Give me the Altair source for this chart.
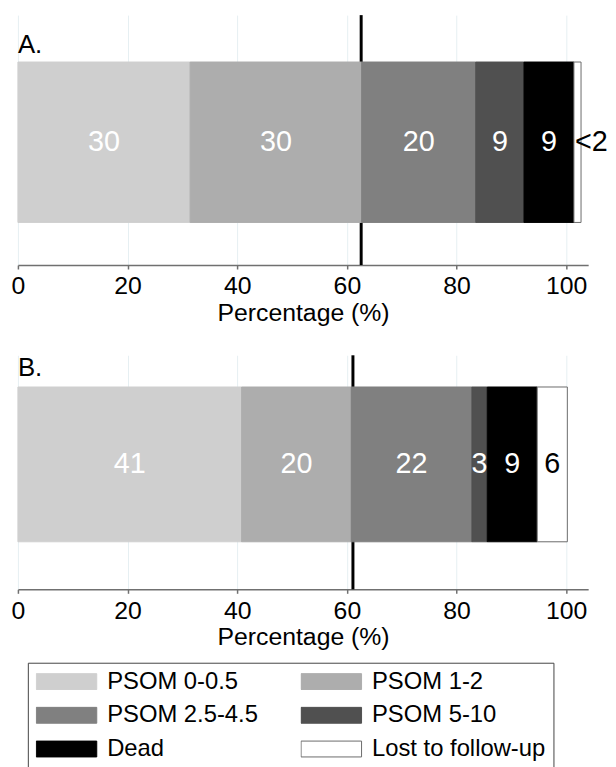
import altair as alt
import pandas as pd

categories = ["PSOM 0-0.5", "PSOM 1-2", "PSOM 2.5-4.5", "PSOM 5-10", "Dead", "Lost to follow-up"]
fill_colors = ["#cfcfcf", "#adadad", "#808080", "#505050", "#000000", "#ffffff"]
stroke_colors = ["#cfcfcf", "#adadad", "#808080", "#505050", "#000000", "#6a6a6a"]

a_values = [31.4, 31.3, 20.8, 8.8, 9.1, 1.3]
a_labels = ["30", "30", "20", "9", "9", "<2"]
a_marker = 62.6

b_values = [40.8, 20.0, 22.0, 2.8, 9.1, 5.5]
b_labels = ["41", "20", "22", "3", "9", "6"]
b_marker = 61.1

tick_values = [0, 20, 40, 60, 80, 100]
FONT = "Liberation Sans"


def make_legend():
    return alt.Legend(
        title=None, orient="none", legendX=10, legendY=653,
        columns=2, direction="horizontal",
        symbolType="M-1,-0.2623L1,-0.2623L1,0.2623L-1,0.2623Z",
        symbolSize=3721, symbolStrokeWidth=1,
        clipHeight=22, labelFontSize=24, labelFont=FONT, labelColor="black",
        labelOffset=10, columnPadding=42, rowPadding=10, padding=8,
        strokeColor="#444444", labelLimit=400,
    )


def panel(letter, values, labels, marker, height, pad_outer, align, letter_y):
    df = pd.DataFrame({
        "panel": letter,
        "category": categories,
        "value": values,
        "label": labels,
        "order": list(range(len(categories))),
    })
    xscale = alt.Scale(domain=[0, 104], nice=False, zero=True)
    yscale = alt.Scale(paddingInner=0, paddingOuter=pad_outer, align=align)
    xaxis = alt.Axis(values=tick_values, title="Percentage (%)", format="d", labelFlush=False)

    base = alt.Chart(df)
    bars = base.mark_bar(strokeWidth=1).encode(
        x=alt.X("value:Q", stack="zero", scale=xscale, axis=xaxis),
        y=alt.Y("panel:N", axis=None, scale=yscale),
        fill=alt.Fill("category:N", scale=alt.Scale(domain=categories, range=fill_colors),
                      sort=categories, legend=make_legend()),
        stroke=alt.Stroke("category:N", scale=alt.Scale(domain=categories, range=stroke_colors),
                          sort=categories, legend=make_legend()),
        order=alt.Order("order:Q"),
    )

    stacked = base.transform_stack(
        stack="value", groupby=["panel"], as_=["x0", "x1"],
        sort=[alt.SortField("order", order="ascending")],
    ).transform_calculate(mid="(datum.x0 + datum.x1) / 2")

    inside = stacked.transform_filter("datum.value >= 2").mark_text(
        fontSize=29, baseline="middle", align="center", font=FONT
    ).encode(
        x=alt.X("mid:Q", scale=xscale),
        y=alt.Y("panel:N", scale=yscale, axis=None),
        text="label:N",
        color=alt.condition("datum.category == 'Lost to follow-up'", alt.value("black"), alt.value("white")),
    )
    outside = stacked.transform_filter("datum.value < 2").mark_text(
        fontSize=29, baseline="middle", align="left", dx=1, font=FONT, color="black"
    ).encode(
        x=alt.X("x0:Q", scale=xscale),
        y=alt.Y("panel:N", scale=yscale, axis=None),
        text="label:N",
    )

    rule = alt.Chart(pd.DataFrame({"marker": [marker]})).mark_rule(
        strokeWidth=3, color="black"
    ).encode(x=alt.X("marker:Q", scale=xscale))

    title = alt.Chart(pd.DataFrame({"t": [letter + "."]})).mark_text(
        align="left", baseline="alphabetic", fontSize=26, font=FONT, color="black"
    ).encode(x=alt.value(0), y=alt.value(letter_y), text="t:N")

    return alt.layer(rule, bars, inside, outside, title).properties(width=575, height=height)


pa = panel("A", a_values, a_labels, a_marker, 252, 0.279, 0.524, 38)
pb = panel("B", b_values, b_labels, b_marker, 236, 0.256, 0.40, 21)

chart = alt.vconcat(pa, pb, spacing=28).resolve_scale(
    fill="shared", stroke="shared"
).properties(
    padding={"left": 3, "top": 2, "right": 0, "bottom": 0}
).configure(
    font=FONT
).configure_view(
    strokeWidth=0
).configure_axis(
    labelFontSize=25, titleFontSize=25, titleFontWeight="normal",
    labelColor="black", titleColor="black", labelFont=FONT, titleFont=FONT,
    domainColor="#707070", tickColor="#707070", domainWidth=1.5, tickWidth=1.5,
    tickSize=4, labelPadding=5, titlePadding=2,
    grid=True, gridColor="#e6eff2", gridWidth=1,
)

chart.save("out.html", embed_options={"renderer": "svg", "actions": False})
